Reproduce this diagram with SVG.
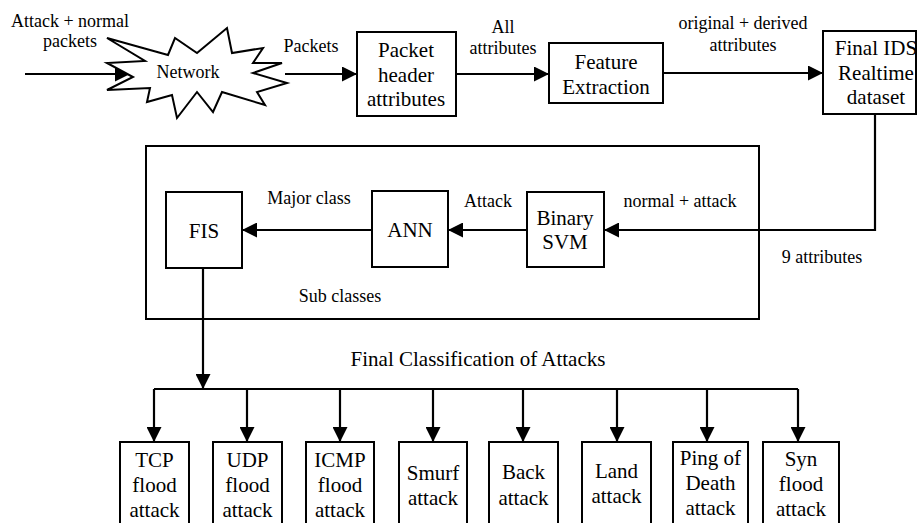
<svg xmlns="http://www.w3.org/2000/svg" width="917" height="523" viewBox="0 0 917 523">
<style>
text{fill:#000;text-anchor:middle}
.b{font-size:21px}
.l{font-size:18px}
.box{fill:#fff;stroke:#000;stroke-width:2}
.c{fill:none;stroke:#000;stroke-width:2.2}
</style>
<defs>
<marker id="ah" viewBox="0 0 15 15" refX="15" refY="7.5" markerWidth="15" markerHeight="15" markerUnits="userSpaceOnUse" orient="auto">
<path d="M0,0 L15,7.5 L0,15 Z" fill="#000"/>
</marker>
</defs>
<rect x="0" y="0" width="917" height="523" fill="#fff"/>
<g id="connectors">
<line class="c" x1="25" y1="74" x2="130" y2="74" marker-end="url(#ah)"/>
<line class="c" x1="285" y1="74" x2="357" y2="74" marker-end="url(#ah)"/>
<line class="c" x1="456" y1="74" x2="549" y2="74" marker-end="url(#ah)"/>
<line class="c" x1="663" y1="73" x2="823" y2="73" marker-end="url(#ah)"/>
<polyline class="c" points="875,114 875,230 604,230" marker-end="url(#ah)"/>
<line class="c" x1="527" y1="230" x2="448" y2="230" marker-end="url(#ah)"/>
<line class="c" x1="372" y1="230" x2="242" y2="230" marker-end="url(#ah)"/>
<line class="c" x1="203" y1="268" x2="203" y2="389" marker-end="url(#ah)"/>
<line class="c" x1="154" y1="389" x2="798" y2="389"/>
<line class="c" x1="154" y1="389" x2="154" y2="442" marker-end="url(#ah)"/>
<line class="c" x1="247" y1="389" x2="247" y2="442" marker-end="url(#ah)"/>
<line class="c" x1="340" y1="389" x2="340" y2="442" marker-end="url(#ah)"/>
<line class="c" x1="433" y1="389" x2="433" y2="442" marker-end="url(#ah)"/>
<line class="c" x1="523" y1="389" x2="523" y2="442" marker-end="url(#ah)"/>
<line class="c" x1="617" y1="389" x2="617" y2="442" marker-end="url(#ah)"/>
<line class="c" x1="707" y1="389" x2="707" y2="442" marker-end="url(#ah)"/>
<line class="c" x1="798" y1="389" x2="798" y2="442" marker-end="url(#ah)"/>
</g>
<g font-family="Liberation Serif, Times New Roman, DejaVu Serif, serif">
<g id="labels">
<text class="l" x="70" y="27">Attack + normal</text>
<text class="l" x="70" y="47">packets</text>
<text class="l" x="311" y="52">Packets</text>
<text class="l" x="503" y="33">All</text>
<text class="l" x="503" y="54">attributes</text>
<text class="l" x="743" y="29">original + derived</text>
<text class="l" x="743" y="51">attributes</text>
<text class="l" x="680" y="207">normal + attack</text>
<text class="l" x="822" y="263">9 attributes</text>
<text class="l" x="488" y="207">Attack</text>
<text class="l" x="309" y="204">Major class</text>
<text class="l" x="340" y="302">Sub classes</text>
<text class="b" x="478" y="366">Final Classification of Attacks</text>
</g>
<g id="network">
<polygon class="box" points="107,38 168,55 175,38 197,53 227,28 232,53 263,48 253,63 282,63 253,73 287,83 257,92 265,105 222,92 213,112 197,92 177,118 172,95 147,102 150,88 107,90 133,77 107,63 145,61"/>
<text class="l" x="188" y="78">Network</text>
</g>
<g id="packet-header">
<rect class="box" x="357" y="32" width="99" height="84"/>
<text class="b" x="406" y="57">Packet</text>
<text class="b" x="406" y="82">header</text>
<text class="b" x="406" y="106">attributes</text>
</g>
<g id="feature-extraction">
<rect class="box" x="549" y="43" width="114" height="60"/>
<text class="b" x="606" y="69">Feature</text>
<text class="b" x="606" y="94">Extraction</text>
</g>
<g id="final-ids">
<rect class="box" x="823" y="31" width="93" height="83"/>
<text class="b" x="876" y="55">Final IDS</text>
<text class="b" x="876" y="80">Realtime</text>
<text class="b" x="876" y="104">dataset</text>
</g>
<g id="classifier-group">
<rect x="146" y="146" width="613" height="173" fill="none" stroke="#000" stroke-width="2"/>
</g>
<g id="binary-svm">
<rect class="box" x="527" y="192" width="77" height="75"/>
<text class="b" x="565" y="225">Binary</text>
<text class="b" x="565" y="249">SVM</text>
</g>
<g id="ann">
<rect class="box" x="372" y="191" width="76" height="76"/>
<text class="b" x="410" y="237">ANN</text>
</g>
<g id="fis">
<rect class="box" x="166" y="192" width="76" height="76"/>
<text class="b" x="204" y="238">FIS</text>
</g>
<g id="tcp">
<rect class="box" x="120" y="442" width="69" height="90"/>
<text class="b" x="154.5" y="467">TCP</text>
<text class="b" x="154.5" y="492">flood</text>
<text class="b" x="154.5" y="517">attack</text>
</g>
<g id="udp">
<rect class="box" x="213" y="442" width="69" height="90"/>
<text class="b" x="247.5" y="467">UDP</text>
<text class="b" x="247.5" y="492">flood</text>
<text class="b" x="247.5" y="517">attack</text>
</g>
<g id="icmp">
<rect class="box" x="306" y="442" width="68" height="90"/>
<text class="b" x="340" y="467">ICMP</text>
<text class="b" x="340" y="492">flood</text>
<text class="b" x="340" y="517">attack</text>
</g>
<g id="smurf">
<rect class="box" x="399" y="442" width="68" height="90"/>
<text class="b" x="433" y="480">Smurf</text>
<text class="b" x="433" y="505">attack</text>
</g>
<g id="back">
<rect class="box" x="489" y="442" width="69" height="90"/>
<text class="b" x="523.5" y="479">Back</text>
<text class="b" x="523.5" y="505">attack</text>
</g>
<g id="land">
<rect class="box" x="582" y="442" width="69" height="90"/>
<text class="b" x="616.5" y="478">Land</text>
<text class="b" x="616.5" y="503">attack</text>
</g>
<g id="ping">
<rect class="box" x="673" y="442" width="75" height="90"/>
<text class="b" x="710.5" y="465">Ping of</text>
<text class="b" x="710.5" y="490">Death</text>
<text class="b" x="710.5" y="515">attack</text>
</g>
<g id="syn">
<rect class="box" x="763" y="442" width="76" height="90"/>
<text class="b" x="801" y="466">Syn</text>
<text class="b" x="801" y="491">flood</text>
<text class="b" x="801" y="516">attack</text>
</g>
</g>
</svg>
